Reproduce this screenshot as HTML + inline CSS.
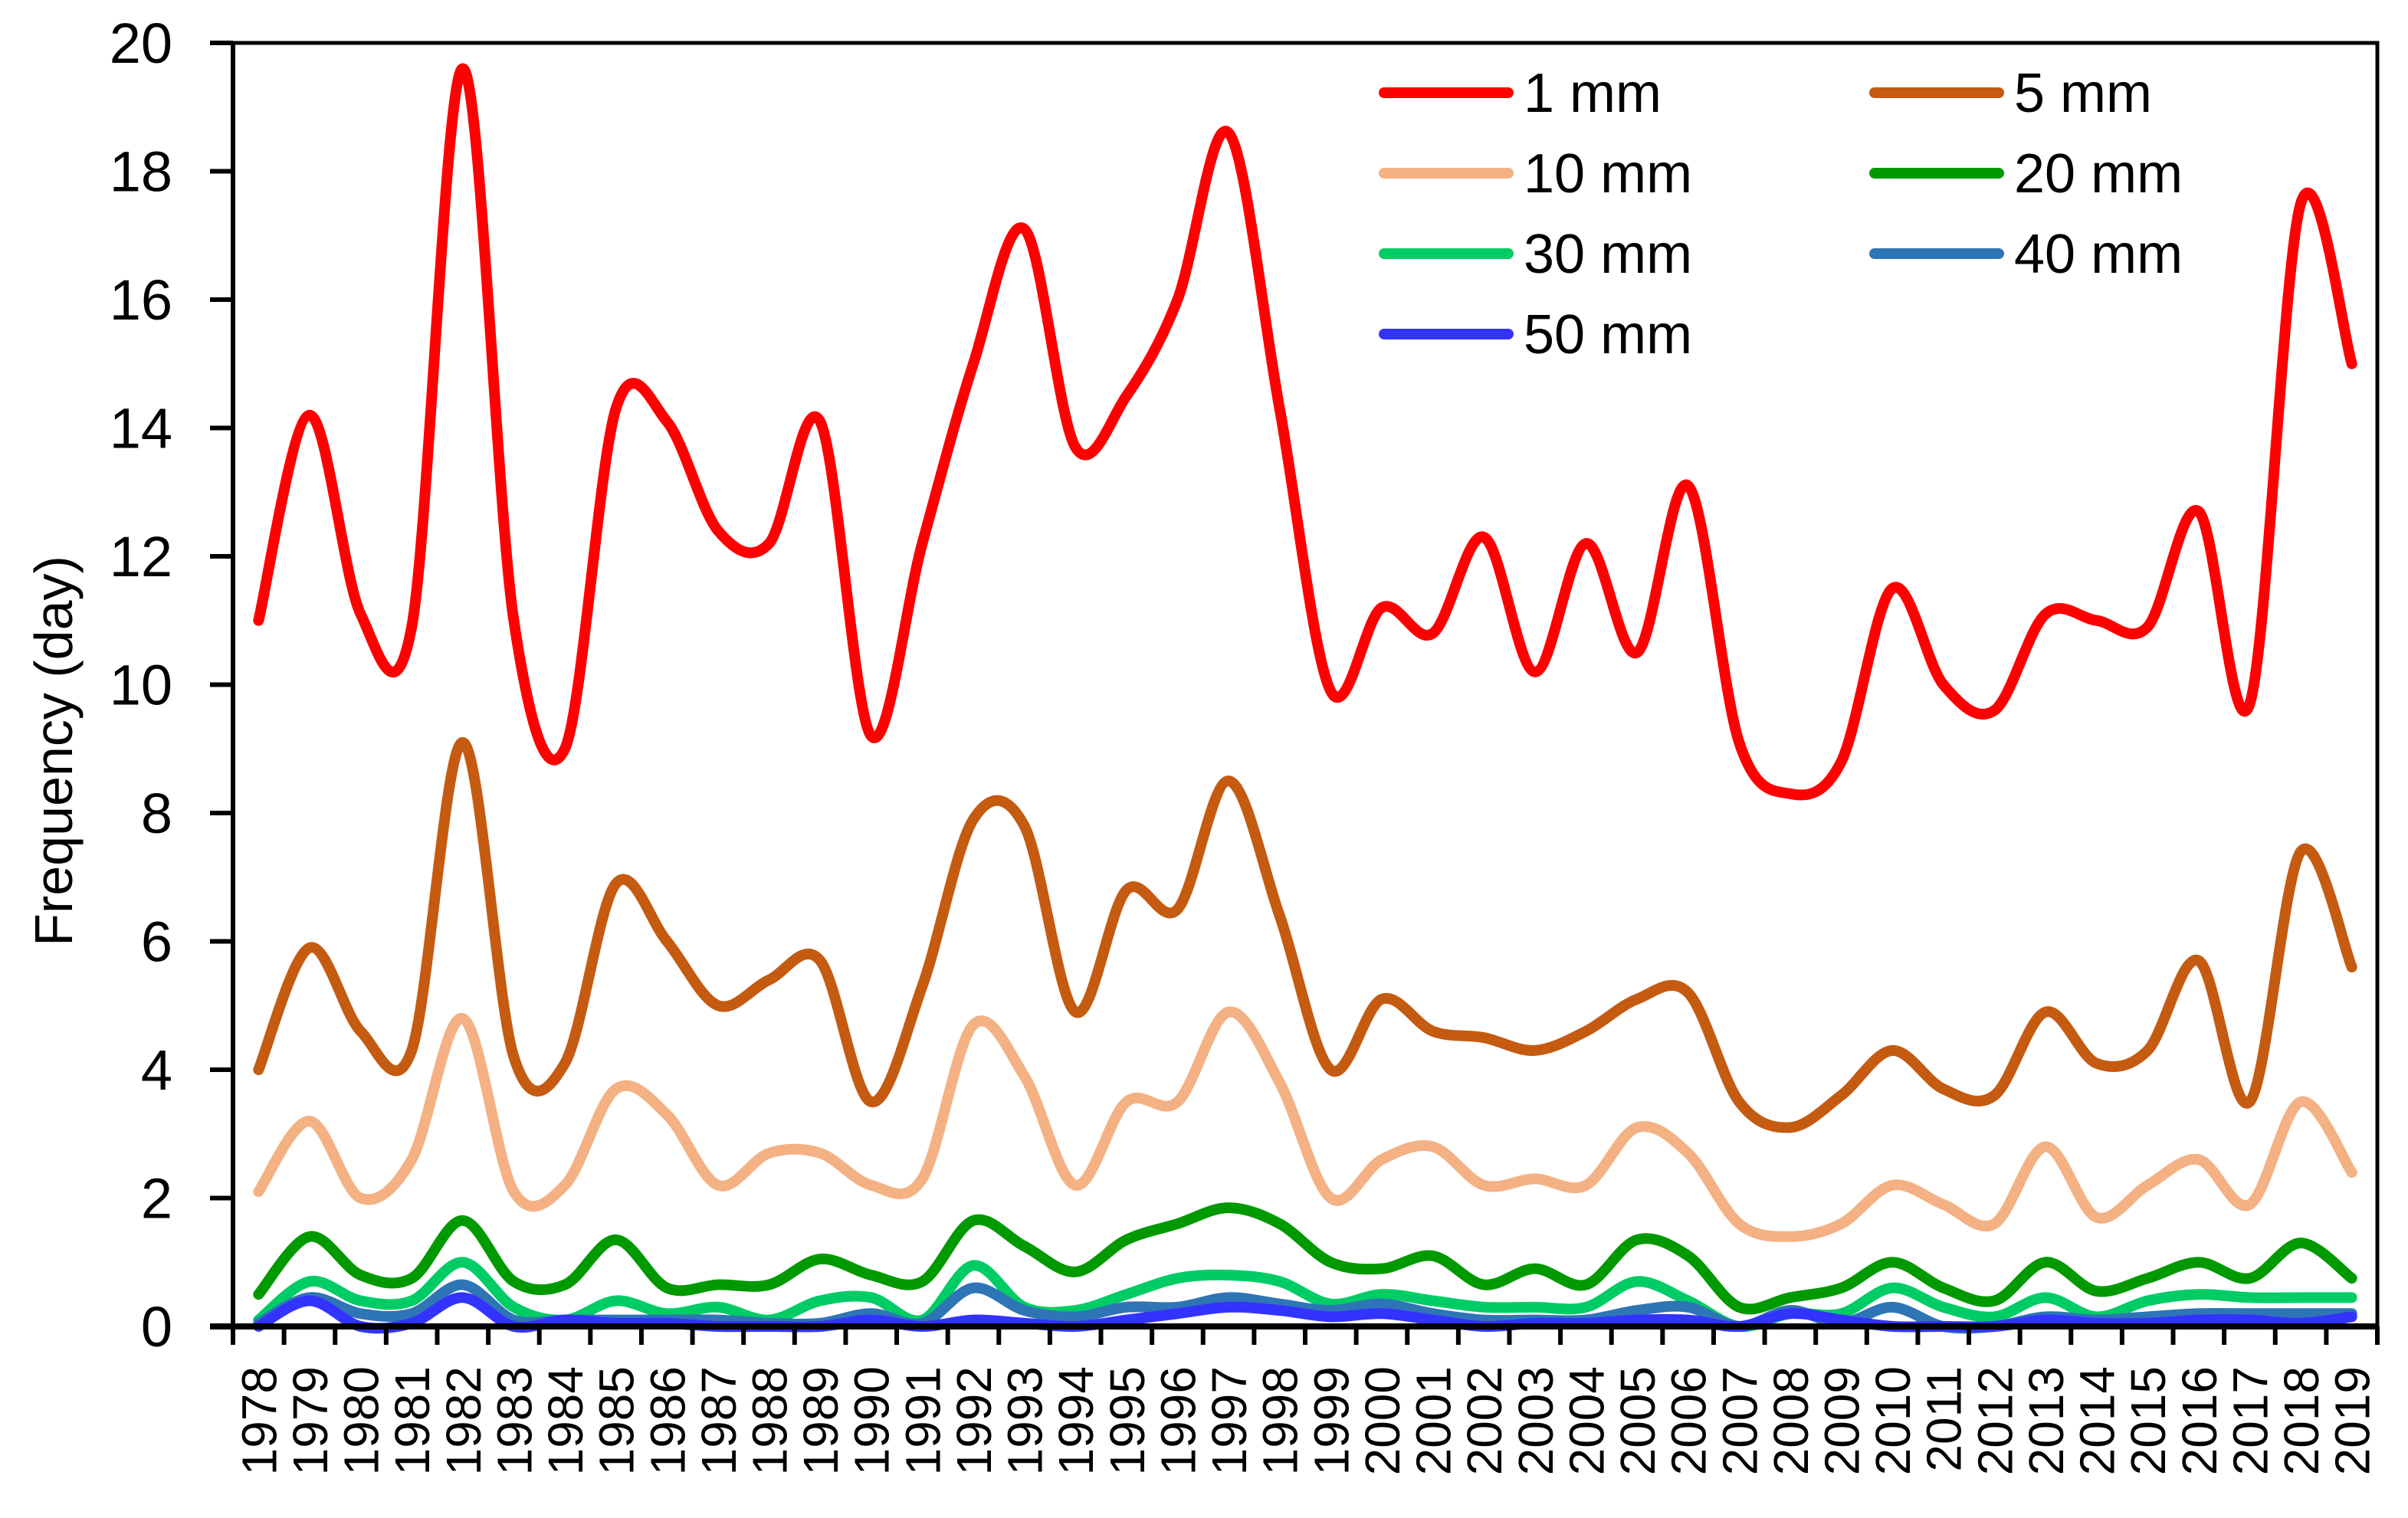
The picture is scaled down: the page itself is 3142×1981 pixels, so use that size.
<!DOCTYPE html>
<html><head><meta charset="utf-8"><style>
html,body{margin:0;padding:0;background:#fff;}
svg{display:block;font-family:"Liberation Sans",sans-serif;}
</style></head><body>
<svg id="chart" width="3142" height="1981" viewBox="0 0 3142 1981" xmlns="http://www.w3.org/2000/svg">
<g id="grid"></g>
<g id="series"></g>
<g id="axes"></g>
<g id="legend"></g>
</svg>
<script>
const years = [];
for (let y = 1978; y <= 2019; y++) years.push(String(y));
const yTicks = [0,2,4,6,8,10,12,14,16,18,20];
const seriesNames = ["1 mm","5 mm","10 mm","20 mm","30 mm","40 mm","50 mm"];
const seriesColors = ["#ff0000","#c55a11","#f4b183","#009900","#00cc66","#2e75b6","#3333ff"];
const s1 = [11.0,14.2,11.1,10.9,19.6,11.0,9.0,14.3,14.1,12.4,12.2,14.1,9.2,12.2,15.0,17.1,13.7,14.5,16.0,18.6,14.3,9.9,11.2,10.8,12.3,10.2,12.2,10.5,13.1,9.1,8.3,8.8,11.5,10.0,9.6,11.1,11.0,10.9,12.7,9.7,17.5,15.0];
const s5 = [4.0,5.9,4.6,4.3,9.1,4.2,4.1,6.9,6.0,5.0,5.4,5.7,3.5,5.3,7.9,7.8,4.9,6.8,6.5,8.5,6.4,4.0,5.1,4.6,4.5,4.3,4.6,5.1,5.2,3.5,3.1,3.6,4.3,3.7,3.6,4.9,4.1,4.3,5.7,3.5,7.4,5.6];
const s10 = [2.1,3.2,2.0,2.6,4.8,2.1,2.2,3.7,3.3,2.2,2.7,2.7,2.2,2.3,4.7,3.9,2.2,3.5,3.5,4.9,3.8,2.0,2.6,2.8,2.2,2.3,2.2,3.1,2.7,1.6,1.4,1.6,2.2,1.9,1.6,2.8,1.7,2.2,2.6,1.9,3.5,2.4];
const s20 = [0.5,1.4,0.8,0.75,1.65,0.7,0.65,1.35,0.6,0.65,0.65,1.05,0.8,0.7,1.65,1.25,0.85,1.35,1.6,1.85,1.6,1.0,0.9,1.1,0.65,0.9,0.65,1.35,1.1,0.3,0.45,0.6,1.0,0.6,0.4,1.0,0.55,0.75,1.0,0.75,1.3,0.75];
const s30 = [0.1,0.7,0.4,0.4,1.0,0.3,0.1,0.4,0.2,0.3,0.1,0.4,0.45,0.1,0.95,0.3,0.25,0.5,0.75,0.8,0.7,0.35,0.5,0.4,0.3,0.3,0.3,0.7,0.4,0.0,0.2,0.2,0.6,0.3,0.15,0.45,0.15,0.4,0.5,0.45,0.45,0.45];
const s40 = [0.05,0.45,0.2,0.2,0.65,0.1,0.1,0.1,0.1,0.1,0.05,0.05,0.2,0.05,0.6,0.25,0.15,0.3,0.3,0.45,0.35,0.25,0.35,0.2,0.1,0.1,0.1,0.25,0.3,0.0,0.25,0.05,0.3,0.0,0.0,0.15,0.1,0.15,0.2,0.2,0.2,0.2];
const s50 = [0.0,0.4,0.0,0.05,0.45,0.0,0.1,0.05,0.05,0.0,0.0,0.0,0.1,0.0,0.1,0.05,0.0,0.1,0.2,0.3,0.25,0.15,0.2,0.1,0.0,0.05,0.05,0.1,0.1,0.0,0.2,0.1,0.0,0.0,0.0,0.1,0.05,0.05,0.1,0.1,0.05,0.15];
const allSeries = [s1,s5,s10,s20,s30,s40,s50];

const NS = "http://www.w3.org/2000/svg";
const L = 304, R = 3102, T = 56, B = 1731, YMAX = 20;
const bw = (R - L) / years.length;
const xPos = i => L + bw * (i + 0.5);
const yPos = v => B - (v / YMAX) * (B - T);
function mk(tag, attrs, parent) {
  const e = document.createElementNS(NS, tag);
  for (const k in attrs) e.setAttribute(k, attrs[k]);
  parent.appendChild(e);
  return e;
}
const gS = document.getElementById('series'), gA = document.getElementById('axes'), gL = document.getElementById('legend');

allSeries.forEach((data, si) => {
  const pts = data.map((v, i) => [xPos(i), yPos(v)]);
  let d = `M${pts[0][0]},${pts[0][1]}`;
  for (let i = 0; i < pts.length - 1; i++) {
    const p0 = pts[Math.max(0, i - 1)], p1 = pts[i], p2 = pts[i + 1], p3 = pts[Math.min(pts.length - 1, i + 2)];
    const c1 = [p1[0] + (p2[0] - p0[0]) / 6, p1[1] + (p2[1] - p0[1]) / 6];
    const c2 = [p2[0] - (p3[0] - p1[0]) / 6, p2[1] - (p3[1] - p1[1]) / 6];
    d += ` C${c1[0]},${c1[1]} ${c2[0]},${c2[1]} ${p2[0]},${p2[1]}`;
  }
  const p = mk('path', {d: d, fill: 'none', stroke: seriesColors[si], 'stroke-width': 14, 'stroke-linecap': 'round', 'stroke-linejoin': 'round'}, gS);
  
  
});

const box = mk('rect', {x: L, y: T, width: R - L, height: B - T, fill: 'none', stroke: '#000', 'stroke-width': 5}, gA);


const xAxis = mk('line', {x1: L - 30, y1: B, x2: R, y2: B, stroke: '#000', 'stroke-width': 8}, gA);


const yAxis = mk('line', {x1: L, y1: T, x2: L, y2: B + 24, stroke: '#000', 'stroke-width': 6}, gA);



yTicks.forEach(v => {
  const y = yPos(v);
  const t = mk('line', {x1: L - 30, y1: y, x2: L, y2: y, stroke: '#000', 'stroke-width': 6}, gA);
  
  
  const lb = mk('text', {x: 225, y: y + 26, 'text-anchor': 'end', 'font-size': 74, fill: '#000'}, gA);
  lb.textContent = String(v);
  
  
});
for (let i = 0; i <= years.length; i++) {
  const x = L + bw * i;
  const t = mk('line', {x1: x, y1: B, x2: x, y2: B + 24, stroke: '#000', 'stroke-width': 6}, gA);
  
  
}
years.forEach((yr, i) => {
  const x = xPos(i), y = 1783;
  const lb = mk('text', {x: x, y: y, transform: `rotate(-90 ${x} ${y})`, 'text-anchor': 'end', 'font-size': 64, dy: 23, fill: '#000'}, gA);
  lb.textContent = yr;
  
  
});
const yt = mk('text', {x: 94, y: 980, transform: 'rotate(-90 94 980)', 'text-anchor': 'middle', 'font-size': 70, fill: '#000'}, gA);
yt.textContent = 'Frequency (day)';



seriesNames.forEach((n, i) => {
  const col = i % 2, row = Math.floor(i / 2);
  const x0 = col === 0 ? 1806 : 2446, y = 121 + row * 105;
  const ln = mk('line', {x1: x0, y1: y, x2: x0 + 162, y2: y, stroke: seriesColors[i], 'stroke-width': 14, 'stroke-linecap': 'round'}, gL);
  
  
  const tx = mk('text', {x: x0 + 182, y: y + 25, 'font-size': 72, fill: '#000'}, gL);
  tx.textContent = n;
  
  
});
</script>
</body></html>
